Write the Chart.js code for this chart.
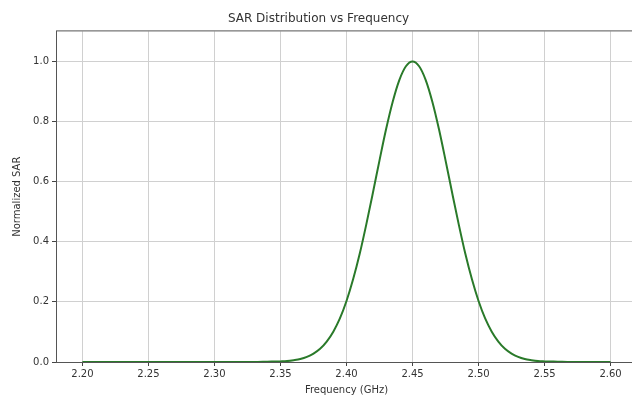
<!DOCTYPE html>
<html>
<head>
<meta charset="utf-8">
<script src="https://cdn.jsdelivr.net/npm/chart.js@4.4.0/dist/chart.umd.min.js"></script>
<style>
  html, body { margin: 0; padding: 0; background: #fff; overflow: hidden; }
  #wrap { width: 660px; height: 396px; }
</style>
</head>
<body>
<div id="wrap"><canvas id="c" width="660" height="396"></canvas></div>
<script>
// frequency (GHz) and normalized SAR
const FREQ = [2.20, 2.25, 2.30, 2.33, 2.34, 2.35, 2.355, 2.36, 2.365, 2.37, 2.375, 2.38, 2.385, 2.39, 2.395,
  2.40, 2.405, 2.41, 2.415, 2.42, 2.425, 2.43, 2.435, 2.44, 2.445, 2.45,
  2.455, 2.46, 2.465, 2.47, 2.475, 2.48, 2.485, 2.49, 2.495, 2.50,
  2.505, 2.51, 2.515, 2.52, 2.525, 2.53, 2.535, 2.54, 2.545, 2.55, 2.56, 2.57, 2.60];
const SAR = [0, 0, 0, 0, 0.001, 0.002, 0.003, 0.006, 0.010, 0.017, 0.028, 0.044, 0.068, 0.101, 0.145,
  0.203, 0.275, 0.360, 0.458, 0.563, 0.671, 0.775, 0.866, 0.938, 0.984, 1.000,
  0.984, 0.938, 0.866, 0.775, 0.671, 0.563, 0.458, 0.360, 0.275, 0.203,
  0.145, 0.101, 0.068, 0.044, 0.028, 0.017, 0.010, 0.006, 0.003, 0.002, 0.001, 0, 0];
const X_TICKS = [2.20, 2.25, 2.30, 2.35, 2.40, 2.45, 2.50, 2.55, 2.60];
const Y_TICKS = [0.0, 0.2, 0.4, 0.6, 0.8, 1.0];

const TEXT = '#333';
const GRID = '#d0d0d0';
Chart.defaults.font.family = 'DejaVu Sans';

// matplotlib-style box around the plot area
const frame = {
  id: 'frame',
  afterDraw(chart) {
    const { ctx, chartArea: a } = chart;
    ctx.save();
    ctx.strokeStyle = '#555';
    ctx.lineWidth = 1;
    ctx.strokeRect(a.left + 0.5, a.top - 0.5, a.right - a.left, a.bottom - a.top + 1);
    ctx.restore();
  }
};

new Chart(document.getElementById('c'), {
  type: 'line',
  data: {
    datasets: [{
      data: FREQ.map((f, i) => ({ x: f, y: SAR[i] })),
      borderColor: '#2a7a2a',
      borderWidth: 2,
      pointRadius: 0,
      cubicInterpolationMode: 'monotone',
      fill: false
    }]
  },
  options: {
    responsive: false,
    animation: false,
    layout: { padding: { right: 23 } },
    plugins: {
      legend: { display: false },
      tooltip: { enabled: false },
      title: {
        display: true,
        text: 'SAR Distribution vs Frequency',
        color: TEXT,
        font: { size: 12, weight: 'normal' },
        padding: { top: 12, bottom: 5 }
      }
    },
    scales: {
      x: {
        type: 'linear',
        min: 2.18, max: 2.62,
        afterBuildTicks: s => { s.ticks = X_TICKS.map(v => ({ value: v })); },
        afterFit: s => { s.height = 34; },
        ticks: { color: TEXT, font: { size: 10 }, padding: 2, maxRotation: 0, callback: v => v.toFixed(2) },
        grid: { color: GRID, tickColor: '#444', tickLength: 4 },
        border: { display: false },
        title: { display: true, text: 'Frequency (GHz)', color: TEXT, font: { size: 10 }, padding: { top: 0, bottom: 0 } }
      },
      y: {
        min: 0, max: 1.1,
        afterBuildTicks: s => { s.ticks = Y_TICKS.map(v => ({ value: v })); },
        afterFit: s => { s.width = 56; },
        ticks: { color: TEXT, font: { size: 10 }, padding: 3, callback: v => v.toFixed(1) },
        grid: { color: GRID, tickColor: '#444', tickLength: 4 },
        border: { display: false },
        title: { display: true, text: 'Normalized SAR', color: TEXT, font: { size: 10 }, padding: { top: 11, bottom: 4 } }
      }
    }
  },
  plugins: [frame]
});
</script>
</body>
</html>
